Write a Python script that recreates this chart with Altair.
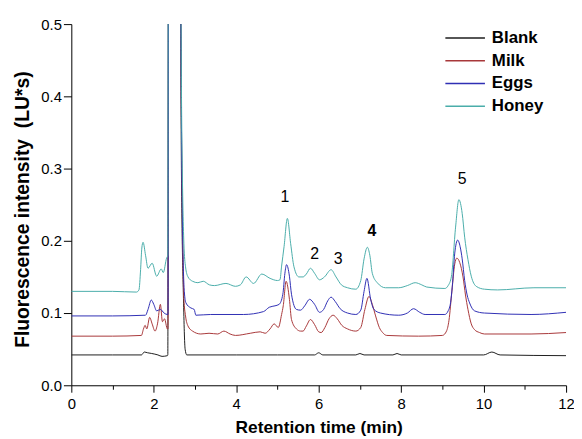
import altair as alt
import pandas as pd

# ---------------- data ----------------
series_names = ["Blank", "Milk", "Eggs", "Honey"]
series_colors = ["#1e1e1e", "#a8383a", "#2f2fb4", "#4aadaa"]

blank_t = [0, 1.0, 1.70, 1.77, 1.85, 1.95, 2.10, 2.20, 2.33, 2.34, 2.36, 2.62, 2.67, 2.72, 2.76, 2.80,
           4.0, 5.0, 5.9, 6.0, 6.1, 6.9, 7.0, 7.1, 7.8, 7.9, 8.0, 10.0, 10.2, 10.4, 12.0]
blank_v = [0.042, 0.042, 0.042, 0.046, 0.045, 0.044, 0.042, 0.040, 0.041, 0.042, 0.80, 0.80, 0.30, 0.12, 0.05, 0.042,
           0.042, 0.042, 0.042, 0.045, 0.042, 0.042, 0.044, 0.042, 0.042, 0.044, 0.042, 0.042, 0.046, 0.042, 0.041]

milk_t = [0, 1.0, 1.70, 1.75, 1.79, 1.83, 1.90, 1.96, 2.03, 2.09, 2.16, 2.21, 2.26, 2.33, 2.345, 2.36, 2.62,
          2.68, 2.73, 2.77, 2.83, 2.94, 3.14, 3.34, 3.55, 3.70, 3.85, 3.98, 4.34, 4.58, 4.70, 4.82, 4.92, 5.02,
          5.10, 5.14, 5.21, 5.29, 5.34, 5.46, 5.56, 5.62, 5.70, 5.80, 5.90, 6.00, 6.06, 6.15, 6.25, 6.35, 6.45,
          6.56, 6.70, 6.90, 7.02, 7.12, 7.22, 7.30, 7.38, 7.47, 7.55, 7.65, 8.42, 9.00, 9.10, 9.16, 9.23, 9.30,
          9.35, 9.42, 9.50, 9.56, 9.62, 9.70, 9.78, 9.90, 10.02, 11.15, 12.0]
milk_v = [0.068, 0.068, 0.069, 0.078, 0.083, 0.078, 0.094, 0.085, 0.075, 0.085, 0.112, 0.088, 0.092, 0.078, 0.078, 0.80, 0.80,
          0.30, 0.12, 0.096, 0.082, 0.075, 0.071, 0.072, 0.071, 0.075, 0.071, 0.069, 0.072, 0.074, 0.072, 0.078, 0.085, 0.080,
          0.098, 0.110, 0.144, 0.119, 0.091, 0.078, 0.075, 0.075, 0.082, 0.091, 0.084, 0.074, 0.073, 0.080, 0.092, 0.097, 0.092,
          0.083, 0.078, 0.075, 0.080, 0.105, 0.123, 0.112, 0.096, 0.080, 0.073, 0.069, 0.068, 0.069, 0.075, 0.090, 0.130, 0.168,
          0.176, 0.170, 0.150, 0.125, 0.105, 0.085, 0.077, 0.073, 0.071, 0.071, 0.073]

eggs_t = [0, 1.0, 1.80, 1.86, 1.94, 2.00, 2.07, 2.16, 2.25, 2.33, 2.345, 2.36, 2.62, 2.68, 2.74, 2.78, 2.90,
          2.98, 3.02, 3.38, 4.18, 4.66, 4.80, 4.94, 5.04, 5.13, 5.18, 5.22, 5.29, 5.34, 5.46, 5.56, 5.66, 5.78,
          5.90, 6.02, 6.12, 6.22, 6.30, 6.40, 6.52, 6.70, 6.90, 7.02, 7.10, 7.17, 7.26, 7.34, 7.50, 7.94, 8.15,
          8.30, 8.45, 8.58, 9.06, 9.14, 9.20, 9.24, 9.30, 9.37, 9.43, 9.48, 9.54, 9.60, 9.66, 9.78, 10.02, 11.15, 12.0]
eggs_v = [0.096, 0.096, 0.097, 0.105, 0.118, 0.112, 0.103, 0.105, 0.100, 0.098, 0.098, 0.80, 0.80, 0.30, 0.13, 0.114, 0.107,
          0.105, 0.097, 0.098, 0.098, 0.102, 0.108, 0.110, 0.112, 0.126, 0.155, 0.167, 0.151, 0.126, 0.105, 0.104, 0.110, 0.119,
          0.112, 0.101, 0.105, 0.117, 0.122, 0.116, 0.106, 0.100, 0.098, 0.104, 0.130, 0.148, 0.119, 0.105, 0.100, 0.097, 0.100,
          0.106, 0.101, 0.098, 0.098, 0.103, 0.115, 0.137, 0.183, 0.201, 0.192, 0.175, 0.145, 0.125, 0.114, 0.103, 0.100, 0.098, 0.101]

honey_t = [0, 1.0, 1.58, 1.64, 1.68, 1.71, 1.74, 1.80, 1.86, 1.96, 2.07, 2.18, 2.23, 2.31, 2.34, 2.355, 2.62,
           2.68, 2.73, 2.77, 2.83, 2.94, 3.07, 3.20, 3.35, 3.47, 3.75, 3.98, 4.10, 4.24, 4.42, 4.62, 4.82, 5.00,
           5.06, 5.10, 5.16, 5.24, 5.32, 5.40, 5.52, 5.62, 5.70, 5.80, 5.90, 6.02, 6.14, 6.30, 6.42, 6.55, 6.70,
           6.90, 7.02, 7.10, 7.18, 7.24, 7.30, 7.42, 7.62, 7.94, 8.15, 8.34, 8.50, 8.62, 9.06, 9.14, 9.22, 9.32,
           9.40, 9.48, 9.54, 9.62, 9.70, 9.82, 10.02, 10.34, 11.22, 12.0]
honey_v = [0.130, 0.130, 0.129, 0.132, 0.160, 0.190, 0.198, 0.180, 0.162, 0.169, 0.151, 0.161, 0.156, 0.176, 0.180, 0.80, 0.80,
           0.35, 0.196, 0.164, 0.150, 0.144, 0.142, 0.144, 0.139, 0.138, 0.141, 0.137, 0.139, 0.150, 0.141, 0.154, 0.148, 0.145,
           0.146, 0.165, 0.192, 0.231, 0.196, 0.164, 0.150, 0.150, 0.154, 0.162, 0.155, 0.146, 0.150, 0.160, 0.150, 0.139, 0.135,
           0.133, 0.145, 0.175, 0.191, 0.180, 0.155, 0.142, 0.135, 0.135, 0.138, 0.142, 0.139, 0.136, 0.134, 0.138, 0.151, 0.219,
           0.257, 0.238, 0.205, 0.174, 0.151, 0.137, 0.133, 0.132, 0.135, 0.135]

peak_labels = ["1", "2", "3", "4", "5"]
peak_x = [5.18, 5.90, 6.47, 7.29, 9.48]
peak_y = [0.260, 0.181, 0.175, 0.213, 0.285]
peak_bold = [False, False, False, True, False]

x_ticks = list(range(0, 13))
y_ticks = [round(i * 0.05, 2) for i in range(0, 11)]

# ---------------- build tables ----------------
frames = []
for name, ts, vs in [("Blank", blank_t, blank_v), ("Milk", milk_t, milk_v),
                     ("Eggs", eggs_t, eggs_v), ("Honey", honey_t, honey_v)]:
    frames.append(pd.DataFrame({"time": ts, "value": vs, "sample": name,
                                "ord": series_names.index(name)}))
df = pd.concat(frames, ignore_index=True)
peaks = pd.DataFrame({"label": peak_labels, "time": peak_x, "value": peak_y, "bold": peak_bold})

FONT = "Liberation Sans"

xscale = alt.Scale(domain=[0, 12], nice=False, zero=False)
yscale = alt.Scale(domain=[0, 0.5], nice=False)

x_axis = alt.Axis(
    values=x_ticks, labelExpr="datum.value % 2 === 0 ? datum.label : ''",
    tickSize={"condition": {"test": "datum.value % 2 === 0", "value": 7}, "value": 4},
    title="Retention time (min)", titleFontSize=17.5, titleFontWeight="bold", titleFont=FONT,
    titleColor="black", titlePadding=8, labelFont=FONT, labelFontSize=15, labelColor="black",
    labelPadding=4, domainColor="black", tickColor="black", grid=False, labelFlush=False,
)
y_axis = alt.Axis(
    values=y_ticks, format=".1f",
    labelExpr="round(datum.value * 100) % 10 === 0 ? datum.label : ''",
    tickSize={"condition": {"test": "round(datum.value * 100) % 10 === 0", "value": 8}, "value": 5},
    title="Fluorescence intensity\u00a0 (LU*s)", titleFontSize=19.5, titleFontWeight="bold", titleFont=FONT,
    titleColor="black", titlePadding=8, titleY=187, labelFont=FONT, labelFontSize=15, labelColor="black",
    labelPadding=2, domainColor="black", tickColor="black", grid=False, labelFlush=False,
)

lines = alt.Chart(df).mark_line(strokeWidth=1, clip=True, interpolate="monotone").encode(
    x=alt.X("time:Q", scale=xscale, axis=x_axis),
    y=alt.Y("value:Q", scale=yscale, axis=y_axis),
    color=alt.Color("sample:N", scale=alt.Scale(domain=series_names, range=series_colors),
                    legend=alt.Legend(title=None, orient="none", legendX=387, legendY=3,
                                      symbolType="M-2,0H2", symbolSize=400, symbolStrokeWidth=1.5,
                                      labelFont=FONT, labelFontSize=17, labelFontWeight="bold",
                                      labelColor="black", labelOffset=16, rowPadding=4, padding=0)),
    order=alt.Order("ord:Q"),
    detail="sample:N",
)

labels_normal = alt.Chart(peaks).transform_filter("!datum.bold").mark_text(
    font=FONT, fontSize=16, color="black", baseline="middle", align="center").encode(
    x=alt.X("time:Q", scale=xscale), y=alt.Y("value:Q", scale=yscale), text="label:N")
labels_bold = alt.Chart(peaks).transform_filter("datum.bold").mark_text(
    font=FONT, fontSize=16, fontWeight="bold", color="black", baseline="middle", align="center").encode(
    x=alt.X("time:Q", scale=xscale), y=alt.Y("value:Q", scale=yscale), text="label:N")

chart = alt.layer(lines, labels_normal, labels_bold).properties(
    width=500, height=365,
    autosize=alt.AutoSizeParams(type="none"),
    padding={"left": 64, "top": 14, "right": 8, "bottom": 50},
    background="white",
).configure_view(stroke=None)

chart.save("out.html", embed_options={"renderer": "svg", "actions": False})
